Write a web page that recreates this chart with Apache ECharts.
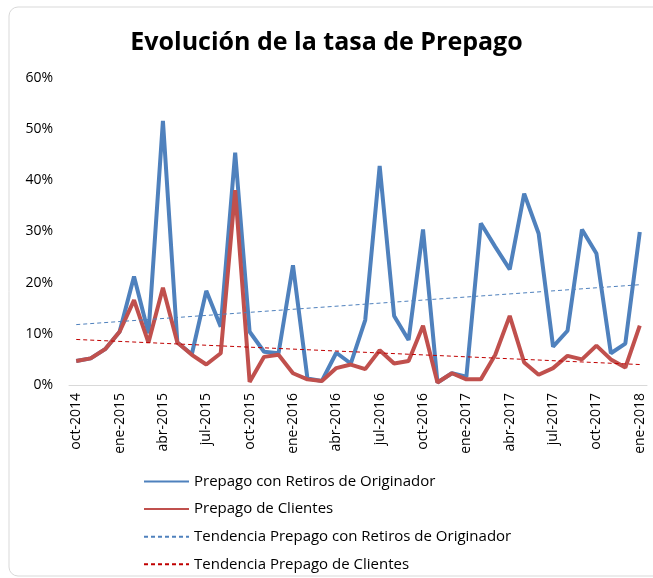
<!DOCTYPE html>
<html>
<head>
<meta charset="utf-8">
<script src="https://cdn.jsdelivr.net/npm/echarts@6/dist/echarts.min.js"></script>
<style>
html,body{margin:0;padding:0;background:#fff;}
#chart{width:653px;height:578px;}
</style>
</head>
<body>
<div id="chart"></div>
<script>
const months = ['oct','nov','dic','ene','feb','mar','abr','may','jun','jul','ago','sep'];
const categories = [];
(function(){
  let m = 0, y = 2014; // oct-2014
  for (let k = 0; k < 40; k++) {
    categories.push(months[m] + '-' + y);
    m++; if (m === 12) m = 0;
    if (months[m] === 'ene') y++;
  }
})();

const titleText = 'Evolución de la tasa de Prepago';
const seriesNames = [
  'Prepago con Retiros de Originador',
  'Prepago de Clientes',
  'Tendencia Prepago con Retiros de Originador',
  'Tendencia Prepago de Clientes'
];

const prepagoRetiros = [
  4.7, 5.2, 7.0, 10.4, 21.2, 10.1, 51.6, 8.3, 6.0, 18.4,
  11.4, 45.4, 10.4, 6.5, 6.2, 23.4, 1.3, 0.8, 6.3, 4.2,
  12.7, 42.8, 13.5, 8.8, 30.4, 0.5, 2.3, 1.6, 31.6, 27.0,
  22.6, 37.4, 29.6, 7.5, 10.6, 30.4, 25.7, 6.2, 8.1, 29.9
];
const prepagoClientes = [
  4.7, 5.2, 7.0, 10.4, 16.6, 8.3, 19.0, 8.3, 5.9, 4.0,
  6.2, 38.1, 0.6, 5.5, 5.9, 2.3, 1.1, 0.8, 3.3, 4.0,
  3.1, 6.8, 4.2, 4.7, 11.6, 0.5, 2.3, 1.1, 1.1, 5.9,
  13.5, 4.4, 2.0, 3.3, 5.7, 5.0, 7.7, 5.0, 3.4, 11.6
];
// trend line endpoints (first and last month)
const trendRetiros = [11.8, 19.6];
const trendClientes = [8.9, 4.0];

const yTicks = [0, 10, 20, 30, 40, 50, 60];

function trendData(ends) {
  const d = categories.map(() => null);
  d[0] = ends[0];
  d[d.length - 1] = ends[1];
  return d;
}

const font = "'Open Sans', 'Noto Sans', sans-serif";
const chart = echarts.init(document.getElementById('chart'), null, {renderer: 'canvas'});
chart.setOption({
  backgroundColor: '#fff',
  animation: false,
  graphic: [{
    type: 'rect',
    shape: {x: 9, y: 7, width: 660, height: 569, r: 9},
    style: {fill: 'none', stroke: '#d9d9d9', lineWidth: 1},
    z: -10
  }],
  title: {
    text: titleText,
    left: 'center',
    top: 25,
    textStyle: {fontFamily: font, fontWeight: 'bold', fontSize: 25, color: '#000'}
  },
  grid: {left: 69, right: 6, top: 78, bottom: 193, containLabel: false},
  legend: {
    orient: 'vertical',
    left: 143,
    top: 474,
    height: 100,
    width: 480,
    padding: 0,
    itemWidth: 45,
    itemHeight: 14,
    itemGap: 12.6,
    itemStyle: {opacity: 0, color: 'rgba(0,0,0,0)', borderWidth: 0},
    textStyle: {fontFamily: font, fontSize: 15, color: '#000', lineHeight: 14},
    data: seriesNames
  },
  xAxis: {
    type: 'category',
    data: categories,
    boundaryGap: true,
    axisLine: {lineStyle: {color: '#d9d9d9', width: 1}},
    axisTick: {show: false},
    axisLabel: {
      interval: 2,
      rotate: 90,
      margin: 8,
      fontFamily: font,
      fontSize: 14,
      color: '#000'
    },
    splitLine: {show: false}
  },
  yAxis: {
    type: 'value',
    min: yTicks[0],
    max: yTicks[yTicks.length - 1],
    interval: 10,
    axisLine: {show: false},
    axisTick: {show: false},
    splitLine: {show: false},
    axisLabel: {
      formatter: '{value}%',
      margin: 16,
      fontFamily: font,
      fontSize: 14,
      color: '#000'
    }
  },
  series: [
    {
      name: seriesNames[0],
      type: 'line',
      data: prepagoRetiros,
      symbol: 'none',
      showSymbol: false,
      lineStyle: {color: '#4f81bd', width: 4},
      itemStyle: {color: '#4f81bd'},
      z: 2
    },
    {
      name: seriesNames[1],
      type: 'line',
      data: prepagoClientes,
      symbol: 'none',
      showSymbol: false,
      lineStyle: {color: '#c0504d', width: 4},
      itemStyle: {color: '#c0504d'},
      z: 3
    },
    {
      name: seriesNames[2],
      type: 'line',
      data: trendData(trendRetiros),
      connectNulls: true,
      symbol: 'none',
      showSymbol: false,
      lineStyle: {color: '#4f81bd', width: 1, type: [4, 3]},
      itemStyle: {color: '#4f81bd'},
      z: 4
    },
    {
      name: seriesNames[3],
      type: 'line',
      data: trendData(trendClientes),
      connectNulls: true,
      symbol: 'none',
      showSymbol: false,
      lineStyle: {color: '#c00000', width: 1, type: [4, 3]},
      itemStyle: {color: '#c00000'},
      z: 4
    }
  ]
});
</script>
</body>
</html>
